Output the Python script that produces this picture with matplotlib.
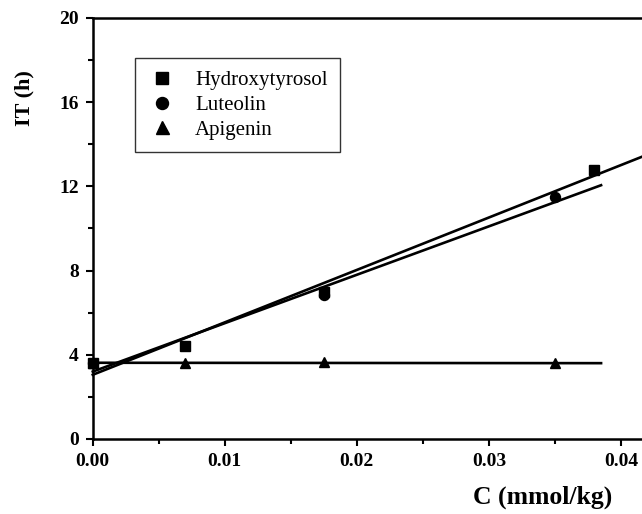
import numpy as np
import matplotlib
matplotlib.use("Agg")
import matplotlib.pyplot as plt

# concentrations (mmol/kg) and induction times (h)
hyd_c = [0.0, 0.007, 0.0175, 0.038]
hyd_it = [3.6, 4.4, 7.0, 12.8]
lut_c = [0.0, 0.0175, 0.035]
lut_it = [3.6, 6.85, 11.5]
api_c = [0.0, 0.007, 0.0175, 0.035]
api_it = [3.6, 3.6, 3.65, 3.6]

# linear fits: intercept, slope, last x
hyd_fit = [3.05, 249.0, 0.0416]
lut_fit = [3.2, 230.0, 0.0385]
api_fit = [3.62, -0.5, 0.0385]

plt.rcParams['font.family'] = ['Liberation Serif', 'DejaVu Serif']

fig = plt.figure(figsize=(6.42, 5.14), dpi=100)
ax = fig.add_axes([0.1445, 0.146, 0.8555, 0.819])

for fit in (hyd_fit, lut_fit, api_fit):
    xs = np.array([0.0, fit[2]])
    ax.plot(xs, fit[0] + fit[1] * xs, color='black', lw=1.9, clip_on=False)

ax.plot(hyd_c, hyd_it, 's', color='black', ms=6.8, label='Hydroxytyrosol', clip_on=False)
ax.plot(lut_c, lut_it, 'o', color='black', ms=7.2, label='Luteolin', clip_on=False)
ax.plot(api_c, api_it, '^', color='black', ms=7.8, label='Apigenin', clip_on=False)

ax.set_xlim(0, 0.0416)
ax.set_ylim(0, 20)
ax.set_xticks([0, 0.01, 0.02, 0.03, 0.04])
ax.set_xticklabels(['0.00', '0.01', '0.02', '0.03', '0.04'])
ax.set_xticks([0.005, 0.015, 0.025, 0.035], minor=True)
ax.set_yticks([0, 4, 8, 12, 16, 20])
ax.set_yticks([2, 6, 10, 14, 18], minor=True)

for s in ('left', 'bottom', 'top'):
    ax.spines[s].set_linewidth(1.8)
ax.spines['right'].set_visible(False)

ax.tick_params(which='major', direction='out', length=5, width=1.5,
               labelsize=14, pad=5)
ax.tick_params(which='minor', direction='out', length=3.5, width=1.5)
for lbl in ax.get_xticklabels() + ax.get_yticklabels():
    lbl.set_fontweight('bold')

fig.text(0.845, 0.033, 'C (mmol/kg)', fontsize=18.5, fontweight='bold', ha='center', va='center')
fig.text(0.038, 0.81, 'IT (h)', fontsize=16, fontweight='bold', ha='center', va='center',
         rotation=90)

leg = ax.legend(loc='upper left', bbox_to_anchor=(0.0765, 0.905), frameon=True,
                fancybox=False, edgecolor='black', fontsize=15, handlelength=1.4,
                handletextpad=0.9, labelspacing=0.25, borderpad=0.6, borderaxespad=0,
                markerscale=1.2)
leg.get_frame().set_linewidth(1.0)

fig.savefig('out.png', dpi=100)
